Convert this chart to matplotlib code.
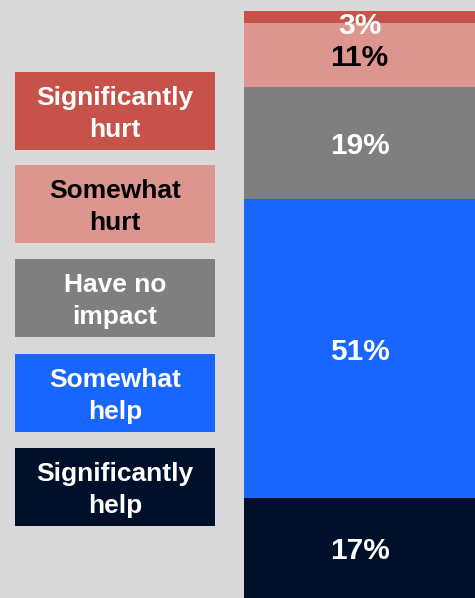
import numpy as np
import matplotlib.pyplot as plt
from matplotlib.patches import Rectangle

plt.rcParams['font.family'] = ['Liberation Sans', 'DejaVu Sans']

# stacked from bottom to top
categories = ["Significantly\nhelp", "Somewhat\nhelp", "Have no\nimpact",
              "Somewhat\nhurt", "Significantly\nhurt"]
values = [17, 51, 19, 11, 3]
colors = ["#00102A", "#1966FF", "#7F7F7F", "#DD968F", "#C7524A"]
text_colors = ["white", "white", "white", "black", "white"]
bg = "#D9D9D9"

fig = plt.figure(figsize=(4.75, 5.98), dpi=100, facecolor=bg)
ax = fig.add_axes([244 / 475, 0, 1 - 244 / 475, 587 / 598])
ax.set_facecolor(bg)

bottom = 0
for v, c, tc in zip(values, colors, text_colors):
    ax.bar([0], [v], bottom=bottom, width=1, color=c, linewidth=0)
    ypos = bottom + v / 2 if bottom + v <= 100 else bottom
    ax.text(0, ypos, f"{v}%", ha="center", va="center_baseline", color=tc,
            fontsize=21.5, fontweight="bold", clip_on=False)
    bottom += v

ax.set_xlim(-0.5, 0.5)
ax.set_ylim(0, 100)
ax.axis("off")

# legend boxes, top to bottom
W, H = 475, 598
box_left, box_w, box_h = 15, 200, 78
box_tops = [72, 165, 259, 354, 448]
for top, lab, c, tc in zip(box_tops, categories[::-1], colors[::-1], text_colors[::-1]):
    fig.patches.append(Rectangle((box_left / W, 1 - (top + box_h) / H), box_w / W, box_h / H,
                                 transform=fig.transFigure, facecolor=c, edgecolor="none"))
    fig.text((box_left + box_w / 2) / W, 1 - (top + box_h / 2 + 3) / H, lab,
             ha="center", va="center", color=tc, fontsize=19, fontweight="bold",
             linespacing=1.45)

fig.savefig("out.png", dpi=100, facecolor=bg)
